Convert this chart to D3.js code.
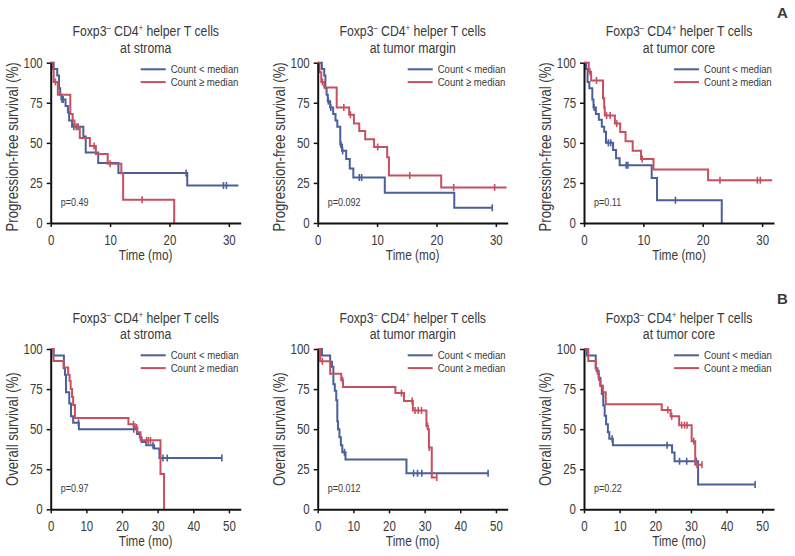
<!DOCTYPE html>
<html><head><meta charset="utf-8">
<script src="https://cdn.jsdelivr.net/npm/d3@7"></script>
<style>
body{margin:0;background:#fff}
svg{display:block}
text{font-family:"Liberation Sans",Arial,sans-serif;fill:#3a3a3a}
</style>
</head><body>
<svg id="chart" width="795" height="556"></svg>
<script>
// ---------- data ----------
const pfsTicks = [0, 10, 20, 30];
const osTicks = [0, 10, 20, 30, 40, 50];
const yTicks = [0, 25, 50, 75, 100];
const titleLine1 = ["Foxp3", "\u2013", " CD4", "+", " helper T cells"];
const sites = ["at stroma", "at tumor margin", "at tumor core"];
const yLabels = ["Progression-free survival (%)", "Overall survival (%)"];
const xLabel = "Time (mo)";
const legendLabels = ["Count < median", "Count \u2265 median"];
const pValues = [["p=0.49", "p=0.092", "p=0.11"], ["p=0.97", "p=0.012", "p=0.22"]];
const panelTags = ["A", "B"];

// [time (mo), survival (%)] step points; last point = end of follow-up
const pfsStromaLow = [[0,100],[0.5,96],[1.1,92],[1.4,84],[1.6,80],[1.8,77],[2.5,73],[2.9,69],[3.1,64],[3.6,60],[5.5,54],[5.9,44],[8.0,37.5],[11.4,31.2],[23,23.4],[31.6,23.4]];
const pfsStromaLowCens = [1.9,2.1,3.9,4.6,22.8,29.1,29.6];
const pfsStromaHigh = [[0,100],[0.3,96],[0.5,88],[1.2,80],[3.3,68],[3.7,64],[4.0,60],[4.9,53],[6.6,48],[7.6,43],[9.6,37],[11.9,31],[12.2,14.5],[20.8,0]];
const pfsStromaHighCens = [0.8,4.3,7.3,10.0,15.4];

const pfsMarginLow = [[0,100],[0.7,96],[1.1,92],[1.3,84],[1.5,80],[1.7,76],[2.1,72],[2.6,68],[3.0,64],[3.3,60],[3.8,49],[4.1,45],[4.8,40],[5.4,34],[6.0,28.4],[11.3,18.9],[23,9.5],[29.4,9.5]];
const pfsMarginLowCens = [1.8,2.2,3.9,4.2,7.0,7.4,29.4];
const pfsMarginHigh = [[0,100],[0.3,94],[0.6,88],[1.1,84.5],[3.2,72],[5.3,67.5],[6.1,62],[7.0,57.4],[8.0,52.3],[9.5,47.4],[11.7,41],[12.0,29.6],[20.8,22.2],[31.8,22.2]];
const pfsMarginHighCens = [0.8,4.4,5.5,10.1,15.5,22.9,29.8];

const pfsCoreLow = [[0,100],[0.35,96],[0.6,88],[0.9,84],[1.4,77],[1.6,72],[2.0,68],[2.5,64.4],[3.0,60],[3.4,57],[3.7,50],[4.9,45.6],[5.4,40.4],[6.0,36],[11.4,28],[12.3,14.2],[23.2,0]];
const pfsCoreLowCens = [1.7,4.1,4.5,7.1,7.4,15.4];
const pfsCoreHigh = [[0,100],[0.8,94.4],[1.2,88.9],[3.2,77.8],[3.4,72],[3.5,67],[5.2,62],[6.1,56.8],[7.0,51],[8.2,45],[9.6,40],[11.7,33.3],[20.9,26.7],[31.7,26.7]];
const pfsCoreHighCens = [1.0,2.1,3.8,4.4,5.5,9.8,22.9,29.2,29.7];

const osStromaLow = [[0,100],[0.8,96],[3.7,88],[4.0,84],[4.3,73],[5.2,66],[5.7,58],[6.3,54],[7.9,50],[24.2,47],[25.0,45],[25.5,42],[26.8,40],[29.0,38],[30.5,32],[48,32]];
const osStromaLowCens = [7.8,23.3,28.7,31.5,32.7,48];
const osStromaHigh = [[0,100],[0.8,92.5],[3.6,88.5],[4.9,84],[5.3,80],[5.6,75],[6.0,70],[6.3,65],[6.8,57],[21.8,53],[23.6,51],[24.3,48],[25.2,43],[30.8,22],[31.8,0]];
const osStromaHighCens = [23.2,24.1,26.9,27.4,28.0];

const osMarginLow = [[0,100],[1.2,96],[3.5,92],[4.0,89],[4.4,78],[4.8,74],[5.2,68],[5.5,55],[5.7,50],[6.1,45],[6.5,40],[6.9,35.6],[7.8,31],[24.9,22.5],[47.8,22.5]];
const osMarginLowCens = [7.5,26.9,28.0,29.2,47.8];
const osMarginHigh = [[0,100],[0.7,92.3],[3.5,84.6],[6.6,80.5],[7.1,76.3],[21.8,72.5],[24.2,67.6],[26.7,61.7],[30.5,52],[30.9,50],[31.2,38.5],[32,19.8],[33.4,19.8]];
const osMarginHighCens = [1.3,7.0,23.5,26.5,27.3,28.2,29.1,30.8,31.3,33.4];

const osCoreLow = [[0,100],[0.8,96],[3.3,88],[3.5,86.5],[4.1,82],[4.6,77],[5.0,72],[5.4,64.7],[5.8,58.4],[6.2,53],[6.7,48],[7.1,44],[8.1,40],[24.7,35.5],[25.4,30],[32,15.4],[48,15.4]];
const osCoreLowCens = [7.9,23.3,26.8,28.8,31.5,48];
const osCoreHigh = [[0,100],[1.2,92.5],[3.3,88],[3.8,84.5],[4.2,80.6],[4.6,77],[5.3,73],[6.1,65.6],[21.8,62],[24.3,58],[26.7,52.5],[30.2,42.5],[31.2,27.8],[33.1,27.8]];
const osCoreHighCens = [23.5,24.6,27.4,28.2,28.9,30.8,31.7,33.1];

// ---------- layout ----------
const colors = {low: "#4a5f9c", high: "#c6505f"};
const colX = [50.7, 317.7, 584];
const rowY = [62.7, 349];
const plotW = 190, plotH = 160.3;
const xMax = [32, 53.3];
const K = 0.82; // condensed type

const rows = [
  [[pfsStromaLow,pfsStromaLowCens,pfsStromaHigh,pfsStromaHighCens],
   [pfsMarginLow,pfsMarginLowCens,pfsMarginHigh,pfsMarginHighCens],
   [pfsCoreLow,pfsCoreLowCens,pfsCoreHigh,pfsCoreHighCens]],
  [[osStromaLow,osStromaLowCens,osStromaHigh,osStromaHighCens],
   [osMarginLow,osMarginLowCens,osMarginHigh,osMarginHighCens],
   [osCoreLow,osCoreLowCens,osCoreHigh,osCoreHighCens]]
];

const svg = d3.select("#chart");

function valueAt(steps, t) {
  let v = steps[0][1];
  for (const p of steps) { if (p[0] <= t) v = p[1]; else break; }
  return v;
}
function cText(g, x, y, size, txt, anchor, rot) {
  return g.append("text")
    .attr("transform", `translate(${x},${y})${rot ? " rotate(-90)" : ""} scale(${K},1)`)
    .attr("text-anchor", anchor || "start").style("font-size", size + "px").text(txt);
}

rows.forEach((row, r) => {
  row.forEach((d, c) => {
    const x0 = colX[c], y0 = rowY[r];
    const x = d3.scaleLinear().domain([0, xMax[r]]).range([0, plotW]);
    const y = d3.scaleLinear().domain([0, 100]).range([plotH, 0]);
    const g = svg.append("g").attr("transform", `translate(${x0},${y0})`);

    // title
    const t1 = cText(g, plotW/2, -26.5, 15, null, "middle");
    titleLine1.forEach((s, i) => {
      const ts = t1.append("tspan").text(s);
      if (i === 1 || i === 3) ts.attr("dy", -5).style("font-size", "9px");
      if (i === 2 || i === 4) ts.attr("dy", 5);
    });
    cText(g, plotW/2, -9.7, 15, sites[c], "middle");

    // curves
    const line = d3.line().x(p => x(p[0])).y(p => y(p[1])).curve(d3.curveStepAfter);
    [[d[0], d[1], colors.low], [d[2], d[3], colors.high]].forEach(([steps, cens, col]) => {
      g.append("path").datum(steps).attr("d", line)
        .attr("fill", "none").attr("stroke", col).attr("stroke-width", 2);
      g.selectAll(null).data(cens).enter().append("line")
        .attr("x1", t => x(t)).attr("x2", t => x(t))
        .attr("y1", t => y(valueAt(steps, t)) - 3.5).attr("y2", t => y(valueAt(steps, t)) + 3.5)
        .attr("stroke", col).attr("stroke-width", 1.6);
    });

    // axes
    const ya = g.append("g").call(d3.axisLeft(y).tickValues(yTicks).tickSize(4).tickSizeOuter(0).tickPadding(4));
    const xa = g.append("g").attr("transform", `translate(0,${plotH})`)
      .call(d3.axisBottom(x).tickValues(r === 0 ? pfsTicks : osTicks).tickSize(4).tickSizeOuter(0).tickPadding(8));
    [ya, xa].forEach(a => {
      a.select(".domain").attr("stroke", "#111").attr("stroke-width", 2);
      a.selectAll(".tick line").attr("stroke", "#111").attr("stroke-width", 1.5);
      a.selectAll(".tick text").style("font-size", "14px").style("font-family", null).attr("fill", "#444")
        .each(function() {
          const el = d3.select(this);
          const xx = +el.attr("x") || 0;
          el.attr("x", xx / K).attr("transform", `scale(${K},1)`);
        });
    });

    // axis labels
    cText(g, plotW/2, plotH + 37, 14.5, xLabel, "middle");
    cText(g, -33, plotH/2 + (r === 0 ? 4 : 0), 16, yLabels[r], "middle", true);

    // legend
    [colors.low, colors.high].forEach((col, i) => {
      const ly = (r === 0 ? 6.6 : 6.3) + i * 12.8;
      g.append("line").attr("x1", 90).attr("x2", 115).attr("y1", ly).attr("y2", ly)
        .attr("stroke", col).attr("stroke-width", 2);
      cText(g, 120, ly, 11.7, legendLabels[i]).attr("dy", "0.35em");
    });

    // p value
    cText(g, 10, plotH - 17, 11, pValues[r][c]);
  });
});

// panel tags
[[18.3, 0], [304, 1]].forEach(([ty, i]) => {
  svg.append("text").attr("x", 777).attr("y", ty).style("font-size", "15px")
    .style("font-weight", "bold").attr("fill", "#111").text(panelTags[i]);
});
</script>
</body></html>
